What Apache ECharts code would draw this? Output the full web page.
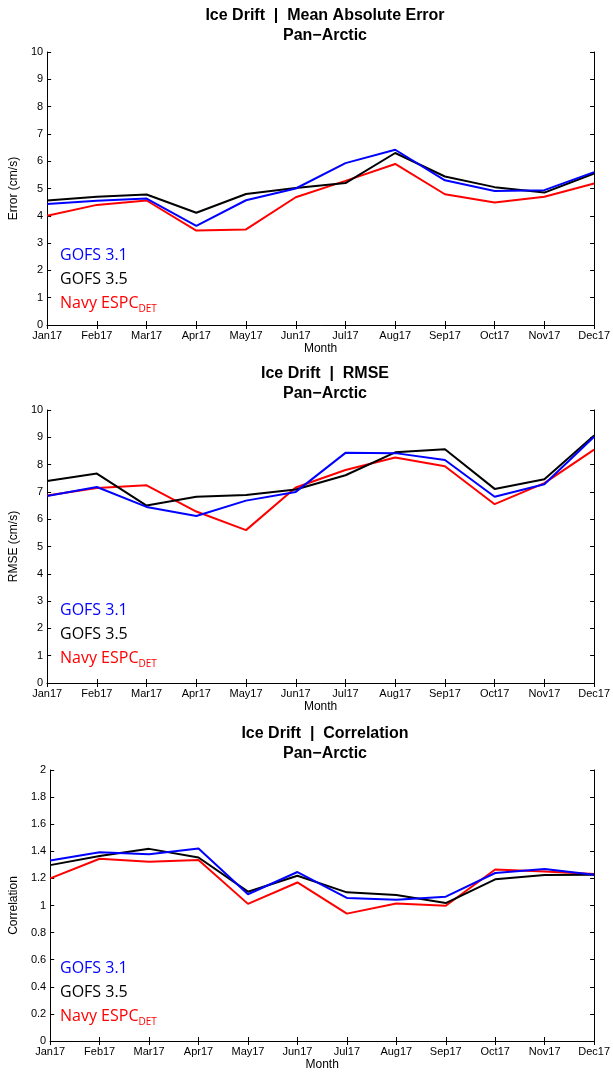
<!DOCTYPE html>
<html>
<head>
<meta charset="utf-8">
<script src="https://cdn.jsdelivr.net/npm/echarts@6/dist/echarts.min.js"></script>
<style>html,body{margin:0;padding:0;background:#fff}#c{width:613px;height:1072px}</style>
</head>
<body>
<div id="c"></div>
<script>
var months = ['Jan17','Feb17','Mar17','Apr17','May17','Jun17','Jul17','Aug17','Sep17','Oct17','Nov17','Dec17'];
var seriesNames = ['GOFS 3.1','GOFS 3.5','Navy ESPC'];

var maeGofs31 = [4.43,4.55,4.63,3.63,4.57,5.00,5.93,6.42,5.30,4.91,4.94,5.60];
var maeGofs35 = [4.56,4.70,4.78,4.11,4.80,5.02,5.20,6.30,5.44,5.05,4.85,5.55];
var maeNavy   = [4.00,4.40,4.56,3.46,3.50,4.68,5.28,5.90,4.79,4.49,4.70,5.18];

var rmseGofs31 = [6.85,7.18,6.45,6.12,6.68,7.00,8.43,8.42,8.17,6.82,7.28,9.02];
var rmseGofs35 = [7.40,7.67,6.50,6.82,6.89,7.09,7.61,8.45,8.56,7.11,7.46,9.07];
var rmseNavy   = [6.87,7.14,7.24,6.28,5.60,7.16,7.80,8.26,7.94,6.55,7.32,8.55];

var corGofs31 = [1.332,1.393,1.379,1.420,1.083,1.247,1.056,1.043,1.065,1.240,1.270,1.227];
var corGofs35 = [1.298,1.366,1.418,1.354,1.102,1.220,1.097,1.078,1.018,1.193,1.225,1.227];
var corNavy   = [1.200,1.345,1.322,1.335,1.012,1.170,0.940,1.015,0.998,1.266,1.251,1.232];

var maeTicks = [0,1,2,3,4,5,6,7,8,9,10];
var rmseTicks = [0,1,2,3,4,5,6,7,8,9,10];
var corTicks = ['0','0.2','0.4','0.6','0.8','1','1.2','1.4','1.6','1.8','2'];

var titles = [
  ['Ice Drift  |  Mean Absolute Error','Pan\u2212Arctic'],
  ['Ice Drift  |  RMSE','Pan\u2212Arctic'],
  ['Ice Drift  |  Correlation','Pan\u2212Arctic']
];
var yNames = ['Error (cm/s)','RMSE (cm/s)','Correlation'];
var xName = 'Month';

var colors = ['#0000ff','#000000','#ff0000'];
var axisFont = 'Liberation Sans, Arial, sans-serif';
var legendFont = 'Open Sans, sans-serif';

var panels = [
  {top:52, left:41, data:[maeGofs31,maeGofs35,maeNavy], max:10, interval:1, ticks:maeTicks, legendY:258},
  {top:410, left:41, data:[rmseGofs31,rmseGofs35,rmseNavy], max:10, interval:1, ticks:rmseTicks, legendY:613},
  {top:770, left:44, data:[corGofs31,corGofs35,corNavy], max:2, interval:0.2, ticks:corTicks, legendY:971}
];

var grid=[], xAxis=[], yAxis=[], series=[], title=[], graphic=[];
panels.forEach(function(p,i){
  grid.push({left:p.left, right:13, top:p.top, height:273, containLabel:false});
  var lineStyle = {color:'#000', width:1};
  xAxis.push({
    type:'category', data:months, boundaryGap:false, gridIndex:i,
    axisLine:{lineStyle:lineStyle}, axisTick:{inside:true, length:4, lineStyle:{color:'#000'}},
    axisLabel:{color:'#000', fontFamily:axisFont, fontSize:11, margin:5, interval:0},
    splitLine:{show:false},
    name:xName, nameLocation:'middle', nameGap:18,
    nameTextStyle:{color:'#000', fontFamily:axisFont, fontSize:12}
  });
  xAxis.push({
    type:'category', data:months, boundaryGap:false, gridIndex:i, position:'top',
    axisLine:{lineStyle:lineStyle}, axisTick:{inside:true, length:4, lineStyle:{color:'#000'}},
    axisLabel:{show:false}, splitLine:{show:false}
  });
  var tk = p.ticks;
  yAxis.push({
    type:'value', min:0, max:p.max, interval:p.interval, gridIndex:i,
    axisLine:{show:true, lineStyle:lineStyle}, axisTick:{show:true, inside:true, length:4, lineStyle:{color:'#000'}},
    axisLabel:{color:'#000', fontFamily:axisFont, fontSize:11, margin:4,
      formatter:function(v){ var k = Math.round(v/p.interval); return String(tk[k]); }},
    splitLine:{show:false},
    name:yNames[i], nameLocation:'middle', nameGap: i===2 ? 27 : 22, nameRotate:90,
    nameTextStyle:{color:'#000', fontFamily:axisFont, fontSize:12}
  });
  yAxis.push({
    type:'value', min:0, max:p.max, interval:p.interval, gridIndex:i, position:'right',
    axisLine:{show:true, lineStyle:lineStyle}, axisTick:{show:true, inside:true, length:4, lineStyle:{color:'#000'}},
    axisLabel:{show:false}, splitLine:{show:false}
  });
  p.data.forEach(function(d,j){
    series.push({
      type:'line', name:seriesNames[j], xAxisIndex:2*i, yAxisIndex:2*i, data:d,
      showSymbol:false, symbol:'none', lineStyle:{color:colors[j], width:2}, itemStyle:{color:colors[j]},
      z: j===1 ? 3 : (j===0 ? 4 : 2), animation:false
    });
  });
  title.push({
    text: titles[i][0] + '\n' + titles[i][1],
    left: 320, top: p.top - 51, textAlign:'center',
    textStyle:{fontFamily:axisFont, fontSize:16, fontWeight:'bold', color:'#000', lineHeight:20}
  });
  [0,1].forEach(function(j){
    graphic.push({
      type:'text', left:60, top:p.legendY + 24*j - 11,
      style:{text:seriesNames[j], fill:colors[j], font:'16px ' + legendFont}
    });
  });
  graphic.push({
    type:'text', left:60, top:p.legendY + 48 - 11,
    style:{
      text:'{a|' + seriesNames[2] + '}{s|DET}',
      fill:colors[2],
      rich:{
        a:{fontFamily:legendFont, fontSize:16, fill:colors[2], color:colors[2], lineHeight:22, verticalAlign:'middle'},
        s:{fontFamily:legendFont, fontSize:10, fill:colors[2], color:colors[2], lineHeight:10, verticalAlign:'bottom'}
      }
    }
  });
});

var chart = echarts.init(document.getElementById('c'), null, {renderer:'canvas'});
chart.setOption({
  backgroundColor:'#fff', animation:false,
  title:title, grid:grid, xAxis:xAxis, yAxis:yAxis, series:series, graphic:graphic
});
</script>
</body>
</html>
